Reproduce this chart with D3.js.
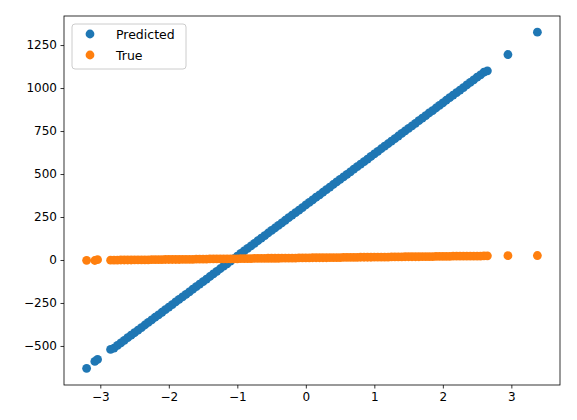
<!DOCTYPE html><html><head><script src="https://cdn.jsdelivr.net/npm/d3@7"></script>
<style>body{margin:0;background:#fff}text{font-family:"DejaVu Sans",sans-serif}</style></head><body><svg id="c" width="577" height="420"></svg>
<script>
const xs=[-3.2,-3.08,-3.04,-2.85,
-2.80,-2.75,-2.70,-2.65,-2.60,-2.55,-2.50,-2.45,-2.40,-2.35,-2.30,-2.25,-2.20,-2.15,-2.10,-2.05,-2.00,-1.95,-1.90,-1.85,-1.80,-1.75,-1.70,-1.65,-1.60,-1.55,-1.50,-1.45,-1.40,-1.35,-1.30,-1.25,-1.20,-1.15,-1.10,-1.05,-1.00,-0.95,-0.90,-0.85,-0.80,-0.75,-0.70,-0.65,-0.60,-0.55,-0.50,-0.45,-0.40,-0.35,-0.30,-0.25,-0.20,-0.15,-0.10,-0.05,0,0.05,0.10,0.15,0.20,0.25,0.30,0.35,0.40,0.45,0.50,0.55,0.60,0.65,0.70,0.75,0.80,0.85,0.90,0.95,1.00,1.05,1.10,1.15,1.20,1.25,1.30,1.35,1.40,1.45,1.50,1.55,1.60,1.65,1.70,1.75,1.80,1.85,1.90,1.95,2.00,2.05,2.10,2.15,2.20,2.25,2.30,2.35,2.40,2.45,2.50,2.55,2.60,
2.65,2.95,3.38];
const predicted=[-630,-590,-578,-520,
-512,-497,-482,-467,-452,-437,-423,-408,-393,-378,-363,-348,-333,-319,-304,-289,-274,-259,-244,-229,-215,-200,-185,-170,-155,-140,-126,-111,-96,-81,-66,-51,-36,-22,-7,8,23,38,53,68,82,97,112,127,142,157,172,186,201,216,231,246,261,275,290,305,320,335,350,365,379,394,409,424,439,454,469,483,498,513,528,543,558,572,587,602,617,632,647,662,676,691,706,721,736,751,766,780,795,810,825,840,855,869,884,899,914,929,944,959,973,988,1003,1018,1033,1048,1063,1077,1092,
1100,1195,1325];
const trueVals=[-2,-3,2,-1,
-1,-1,0,0,0,0,1,1,1, 1,1,2,2,2,2,3,3,3, 3,3,4,4,4,4,5,5,5, 5,6,6,6,6,7,7,7,7, 7,8,8,8,8,9,9,9,9, 10,10,10,10,11,11,11,11,11, 12,12,12,12,13,13,13,13,13, 14,14,14,14,15,15,15,15,15, 16,16,16,16,17,17,17,17,17, 18,18,18,18,19,19,19,19,19, 20,20,20,20,21,21,21,21,21, 22,22,22,22,23,23,23,23,23, 24,
24,25,26];
const xTicks=[-3,-2,-1,0,1,2,3];
const yTicks=[-500,-250,0,250,500,750,1000,1250];
const svg=d3.select("#c");
const L=64,R=560,T=16,B=385;
const x=d3.scaleLinear().domain([-3.53,3.71]).range([L,R]);
const y=d3.scaleLinear().domain([-727,1419]).range([B,T]);
const g=svg.append("g");
g.selectAll(".p").data(xs).join("circle").attr("cx",d=>x(d)).attr("cy",(d,i)=>y(predicted[i])).attr("r",4.4).attr("fill","#1f77b4");
g.selectAll(".t").data(xs).join("circle").attr("cx",d=>x(d)).attr("cy",(d,i)=>y(trueVals[i])).attr("r",4.4).attr("fill","#ff7f0e");
const xa=svg.append("g").attr("transform",`translate(0,${B})`).call(d3.axisBottom(x).tickValues(xTicks).tickFormat(d=>d<0?"\u2212"+(-d):d).tickSize(3.5).tickPadding(3.5));
const ya=svg.append("g").attr("transform",`translate(${L},0)`).call(d3.axisLeft(y).tickValues(yTicks).tickFormat(d=>d<0?"\u2212"+(-d):d).tickSize(3.5).tickPadding(3.5));
[xa,ya].forEach(a=>{a.selectAll("text").attr("font-size",12).attr("fill","#000").attr("font-family","DejaVu Sans");a.select(".domain").remove();a.selectAll("line").attr("stroke","#000").attr("stroke-width",0.8);});
svg.append("rect").attr("x",L).attr("y",T).attr("width",R-L).attr("height",B-T).attr("fill","none").attr("stroke","#000").attr("stroke-width",0.8);
const lg=svg.append("g");
lg.append("rect").attr("x",72).attr("y",24).attr("width",114).attr("height",45).attr("rx",3).attr("fill","#fff").attr("fill-opacity",0.8).attr("stroke","#ccc");
[["Predicted","#1f77b4"],["True","#ff7f0e"]].forEach((d,i)=>{
 lg.append("circle").attr("cx",90).attr("cy",34+i*21).attr("r",4.4).attr("fill",d[1]);
 lg.append("text").attr("x",116).attr("y",38.5+i*21).attr("font-size",12.5).text(d[0]);
});
</script></body></html>
